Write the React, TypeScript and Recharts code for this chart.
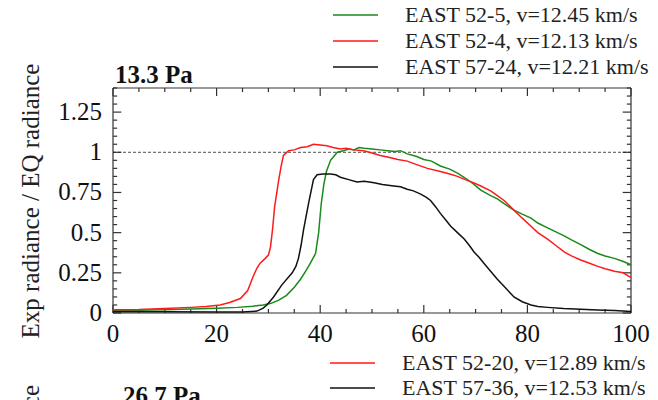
import React from 'react'
import { LineChart, Line, XAxis, YAxis, ReferenceLine } from 'recharts'

const FONT = '"Liberation Serif", "Times New Roman", serif'

// time (x) and normalised radiance (y)
const GREEN_X = [0, 5, 10, 15, 20, 24, 27, 29, 30.5, 32, 33.5, 35, 36.2, 37.2, 38.1, 39.1, 39.7, 40.2, 40.7, 41.2, 42, 43.3, 44.5, 45.5, 46.5, 47.5, 48.5, 50, 51.6, 53, 54.5, 55.5, 56.8, 58.5, 60, 61.5, 63.2, 65, 66.5, 68, 69.7, 71, 72.9, 74.2, 75.5, 77.4, 79, 80.7, 82, 83.9, 85.5, 87.1, 88.5, 90.3, 92, 93.6, 95, 96.8, 98.5, 100]
const GREEN_Y = [0.015, 0.017, 0.02, 0.025, 0.03, 0.035, 0.042, 0.05, 0.06, 0.08, 0.11, 0.16, 0.21, 0.26, 0.31, 0.37, 0.5, 0.68, 0.8, 0.88, 0.95, 1.0, 1.01, 1.02, 1.015, 1.03, 1.025, 1.02, 1.015, 1.01, 1.005, 1.01, 0.99, 0.975, 0.955, 0.945, 0.915, 0.895, 0.87, 0.84, 0.8, 0.765, 0.73, 0.71, 0.68, 0.64, 0.615, 0.59, 0.56, 0.53, 0.505, 0.48, 0.455, 0.425, 0.395, 0.37, 0.355, 0.34, 0.32, 0.3]

const RED_X = [0, 5, 10, 15, 18, 20.7, 22.5, 24.6, 26, 27.1, 27.8, 28.4, 29.4, 30, 30.4, 30.8, 31.2, 32, 32.5, 32.9, 33.9, 35, 36.2, 37.5, 38.7, 40, 41.3, 42.5, 43.9, 45, 46.5, 48.4, 50, 51.6, 53, 55, 56.8, 58.5, 60.7, 63.2, 65, 66.5, 68, 69.7, 71, 72.9, 74.2, 75.5, 77.4, 79, 80.7, 82, 83.9, 85.5, 87.1, 88.5, 90.3, 92, 93.6, 95, 96.8, 98.5, 100]
const RED_Y = [0.02, 0.022, 0.028, 0.035, 0.04, 0.05, 0.065, 0.09, 0.14, 0.23, 0.28, 0.31, 0.34, 0.36, 0.41, 0.52, 0.66, 0.83, 0.92, 0.98, 1.01, 1.015, 1.03, 1.035, 1.05, 1.045, 1.04, 1.03, 1.02, 1.025, 1.015, 1.01, 0.995, 0.98, 0.97, 0.955, 0.945, 0.925, 0.9, 0.88, 0.865, 0.85, 0.83, 0.81, 0.79, 0.76, 0.73, 0.7, 0.64, 0.59, 0.54, 0.5, 0.46, 0.42, 0.38, 0.355, 0.33, 0.31, 0.29, 0.275, 0.26, 0.25, 0.22]

const BLACK_X = [0, 10, 20, 25, 27.8, 29, 29.7, 31, 32.6, 34.6, 35.3, 35.8, 36.3, 36.8, 37.8, 38.7, 39.4, 40.5, 42, 43, 43.9, 45.5, 47.1, 48.5, 50.4, 52, 54.2, 55.5, 56.8, 58, 59.4, 60.5, 61.3, 62.3, 63.2, 64.2, 65.2, 66.5, 67.8, 68.8, 69.7, 70.7, 71.6, 72.9, 74.2, 75.8, 77.4, 79, 80.7, 82, 83.9, 87, 90.3, 93.5, 96.8, 100]
const BLACK_Y = [0.008, 0.008, 0.006, 0.006, 0.012, 0.03, 0.05, 0.1, 0.175, 0.25, 0.29, 0.34, 0.42, 0.52, 0.69, 0.83, 0.86, 0.865, 0.865, 0.86, 0.845, 0.83, 0.815, 0.82, 0.81, 0.8, 0.79, 0.785, 0.77, 0.76, 0.74, 0.72, 0.7, 0.66, 0.62, 0.58, 0.54, 0.5, 0.46, 0.42, 0.38, 0.345, 0.31, 0.26, 0.21, 0.155, 0.1, 0.07, 0.05, 0.04, 0.035, 0.028, 0.023, 0.018, 0.015, 0.01]

const X_TICKS = [0, 5, 10, 15, 20, 25, 30, 35, 40, 45, 50, 55, 60, 65, 70, 75, 80, 85, 90, 95, 100]
const Y_TICKS = [0, 0.05, 0.1, 0.15, 0.2, 0.25, 0.3, 0.35, 0.4, 0.45, 0.5, 0.55, 0.6, 0.65, 0.7, 0.75, 0.8, 0.85, 0.9, 0.95, 1, 1.05, 1.1, 1.15, 1.2, 1.25, 1.3, 1.35, 1.4]
const X_DOMAIN: [number, number] = [0, 100]
const Y_DOMAIN: [number, number] = [0, 1.4]

const SERIES = [
  { name: 'EAST 52-5, v=12.45 km/s', color: '#1a8a1a', xs: GREEN_X, ys: GREEN_Y },
  { name: 'EAST 52-4, v=12.13 km/s', color: '#ff1a1a', xs: RED_X, ys: RED_Y },
  { name: 'EAST 57-24, v=12.21 km/s', color: '#111111', xs: BLACK_X, ys: BLACK_Y },
]

const NEXT_SERIES = [
  { name: 'EAST 52-20, v=12.89 km/s', color: '#ff1a1a' },
  { name: 'EAST 57-36, v=12.53 km/s', color: '#111111' },
]

const FRAME = '#333'
const isMajorX = (v: number) => v % 20 === 0
const isMajorY = (v: number) => Math.abs(v * 4 - Math.round(v * 4)) < 1e-6 && v < 1.3

// inward tick lengths in data units (about 8px major, 4px minor)
const xTickLen = (v: number) => (isMajorY(v) ? 1.6 : 0.8)
const yTickLen = (v: number) => (isMajorX(v) ? 0.05 : 0.025)

function BottomTick(props: any) {
  const { x, y, payload } = props
  if (!isMajorX(payload.value)) return <g />
  return (
    <text x={x} y={y + 29} textAnchor="middle" fontSize={25} fontFamily={FONT} fill="#111">
      {payload.value}
    </text>
  )
}

function LeftTick(props: any) {
  const { x, y, payload } = props
  if (!isMajorY(payload.value)) return <g />
  return (
    <text x={x - 11} y={y + 8} textAnchor="end" fontSize={25} fontFamily={FONT} fill="#111">
      {payload.value}
    </text>
  )
}

export default function App() {
  const frame = { xAxisId: 'b', yAxisId: 'l', stroke: FRAME, strokeWidth: 1.2, ifOverflow: 'visible' as const }
  return (
    <div style={{ position: 'absolute', left: 0, top: 0, width: 658, height: 400, background: '#fff', overflow: 'hidden' }}>
      <LineChart width={658} height={400} margin={{ top: 88, right: 27, bottom: 86, left: 112 }}>
        <XAxis
          xAxisId="b"
          type="number"
          dataKey="x"
          domain={X_DOMAIN}
          ticks={X_TICKS}
          interval={0}
          height={1}
          tickSize={0}
          tickMargin={0}
          tickLine={false}
          tick={BottomTick}
          axisLine={false}
        />
        <YAxis
          yAxisId="l"
          type="number"
          domain={Y_DOMAIN}
          ticks={Y_TICKS}
          interval={0}
          width={1}
          tickSize={0}
          tickMargin={0}
          tickLine={false}
          tick={LeftTick}
          axisLine={false}
        />
        {/* box */}
        <ReferenceLine {...frame} y={Y_DOMAIN[0]} />
        <ReferenceLine {...frame} y={Y_DOMAIN[1]} />
        <ReferenceLine {...frame} x={X_DOMAIN[0]} />
        <ReferenceLine {...frame} x={X_DOMAIN[1]} />
        {/* inward ticks on all four sides */}
        {X_TICKS.map((t) => (
          <ReferenceLine
            key={'xb' + t}
            {...frame}
            segment={[{ x: t, y: Y_DOMAIN[0] }, { x: t, y: Y_DOMAIN[0] + yTickLen(t) }]}
          />
        ))}
        {X_TICKS.map((t) => (
          <ReferenceLine
            key={'xt' + t}
            {...frame}
            segment={[{ x: t, y: Y_DOMAIN[1] }, { x: t, y: Y_DOMAIN[1] - yTickLen(t) }]}
          />
        ))}
        {Y_TICKS.map((v) => (
          <ReferenceLine
            key={'yl' + v}
            {...frame}
            segment={[{ x: X_DOMAIN[0], y: v }, { x: X_DOMAIN[0] + xTickLen(v), y: v }]}
          />
        ))}
        {Y_TICKS.map((v) => (
          <ReferenceLine
            key={'yr' + v}
            {...frame}
            segment={[{ x: X_DOMAIN[1], y: v }, { x: X_DOMAIN[1] - xTickLen(v), y: v }]}
          />
        ))}
        <ReferenceLine xAxisId="b" yAxisId="l" y={1} stroke="#222" strokeDasharray="3 2" strokeWidth={0.8} />
        {SERIES.map((s) => (
          <Line
            key={s.name}
            xAxisId="b"
            yAxisId="l"
            data={s.xs.map((x, i) => ({ x, y: s.ys[i] }))}
            dataKey="y"
            type="linear"
            stroke={s.color}
            strokeWidth={1.5}
            dot={false}
            isAnimationActive={false}
          />
        ))}
      </LineChart>
      <svg
        width={658}
        height={400}
        style={{ position: 'absolute', left: 0, top: 0, pointerEvents: 'none' }}
        fontFamily={FONT}
      >
        {SERIES.map((s, i) => (
          <g key={s.name}>
            <line x1={333} x2={378} y1={15 + i * 26} y2={15 + i * 26} stroke={s.color} strokeWidth={1.5} />
            <text x={405} y={22 + i * 26} fontSize={22} fill="#222">
              {s.name}
            </text>
          </g>
        ))}
        <text x={115} y={83} fontSize={25} fontWeight="bold" fill="#111">
          13.3 Pa
        </text>
        <text
          x={39}
          y={201}
          fontSize={25}
          fill="#222"
          textAnchor="middle"
          transform="rotate(-90 39 201)"
        >
          Exp radiance / EQ radiance
        </text>
        {NEXT_SERIES.map((s, i) => (
          <g key={s.name}>
            <line x1={330} x2={375} y1={363 + i * 25} y2={363 + i * 25} stroke={s.color} strokeWidth={1.5} />
            <text x={402} y={370 + i * 25} fontSize={22} fill="#222">
              {s.name}
            </text>
          </g>
        ))}
        <text x={123} y={404} fontSize={25} fontWeight="bold" fill="#111">
          26.7 Pa
        </text>
        <text x={39} y={385} fontSize={25} fill="#222" textAnchor="end" transform="rotate(-90 39 385)">
          Exp radiance / EQ radiance
        </text>
      </svg>
    </div>
  )
}
